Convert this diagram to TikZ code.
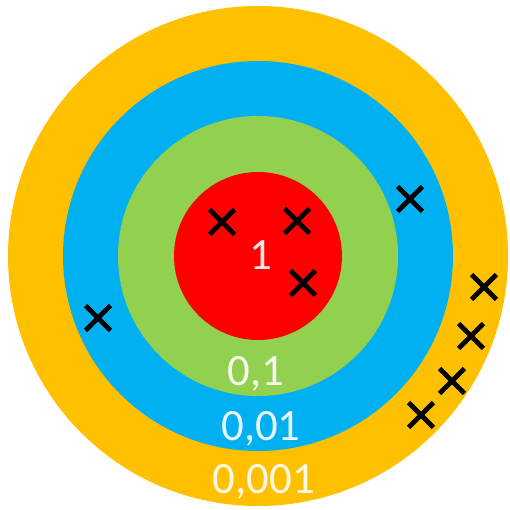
\documentclass[tikz,border=0pt]{standalone}
\usepackage{fontspec}
\setmainfont{Carlito}
\usetikzlibrary{shapes.misc}
\definecolor{ringorange}{HTML}{FFC000}
\definecolor{ringblue}{HTML}{00B0F0}
\definecolor{ringgreen}{HTML}{92D050}
\definecolor{ringred}{HTML}{FF0000}
\tikzset{
  hit mark/.style={cross out,draw=black,line width=2.8pt,minimum size=0.4cm,inner sep=0pt},
  ring label/.style={font=\fontsize{25.5}{30}\selectfont,text=white,text opacity=0.9,anchor=base,inner sep=0pt}
}
\begin{document}
\begin{tikzpicture}[x=0.02cm,y=-0.02cm]
\useasboundingbox (0,0) rectangle (510,510);
\coordinate (centre) at (258,256);
% rings, outside in
\fill[ringorange] (centre) circle (250);
\fill[ringblue] (centre) circle (195);
\fill[ringgreen] (centre) circle (140);
\fill[ringred] (centre) circle (84);
% values
\node[ring label] (one) at (261,269) {1};
\node[ring label] (tenth) at (256,385) {0,1};
\node[ring label] (hundredth) at (261,440) {0,01};
\node[ring label] (thousandth) at (264,493) {0,001};
% hits
\foreach \i/\x/\y in {1/222/222,2/297/221,3/303/283,4/98/318,5/410/199,6/484/287,7/471/336,8/452/381,9/421/415}
  \node[hit mark] (hit\i) at (\x,\y) {};
\end{tikzpicture}
\end{document}
